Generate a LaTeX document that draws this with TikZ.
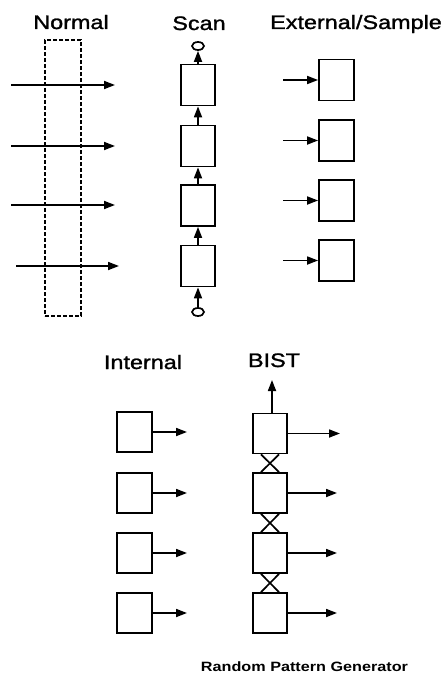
\documentclass[tikz,border=0pt]{standalone}
\usepackage{fontspec}
\setmainfont{Liberation Sans}
\newfontfamily\hdfont[FakeBold=1.2]{Liberation Sans}
\usetikzlibrary{arrows.meta,shapes.geometric}
\newcommand{\wide}[1]{\scalebox{1.2}[1]{#1}}
\begin{document}
\begin{tikzpicture}[x=1pt,y=-1pt,
  heading/.style={anchor=base,inner sep=0pt,font=\hdfont\fontsize{19.5}{22}\selectfont},
  small/.style={anchor=base,inner sep=0pt,font=\fontsize{13.5}{16}\selectfont\bfseries},
  cell/.style={draw,line width=1.8pt,minimum width=34pt,minimum height=41pt,inner sep=0pt},
  arr/.style={line width=1.7pt,-{Triangle[length=11pt,width=8pt]}},
  plain/.style={line width=1.7pt},
  ring/.style={draw,ellipse,line width=1.7pt,minimum width=12pt,minimum height=8pt,inner sep=0pt}]
\useasboundingbox (0,0) rectangle (445,677);

% headings
\node[heading] (hN) at (71,29) {\wide{Normal}};
\node[heading] (hS) at (199,30) {\wide{Scan}};
\node[heading] (hE) at (356,29) {\wide{External/Sample}};
\node[heading] (hI) at (143,369) {\wide{Internal}};
\node[heading] (hB) at (274,367) {\wide{BIST}};
\node[small] (hR) at (304.5,671) {\wide{Random Pattern Generator}};

% Normal
\node[draw,dash pattern=on 4pt off 2pt,line width=1.4pt,minimum width=36pt,minimum height=276pt,inner sep=0pt] (nrect) at (63,178) {};
\coordinate (na1) at (11,85);  \coordinate (nb1) at (115,85);
\coordinate (na2) at (11,146); \coordinate (nb2) at (115,146);
\coordinate (na3) at (11,205); \coordinate (nb3) at (115,205);
\coordinate (na4) at (16,266); \coordinate (nb4) at (119,266);
\foreach \i in {1,...,4} \draw[arr] (na\i) -- (nb\i);

% Scan
\node[cell] (s1) at (198,85) {};
\node[cell] (s2) at (198,146) {};
\node[cell] (s3) at (198,205.5) {};
\node[cell] (s4) at (198,266) {};
\node[ring] (st) at (198,46) {};
\node[ring] (sb) at (198,312) {};
\draw[arr] (s1.north) -- (st.south);
\draw[arr] (s2.north) -- (s1.south);
\draw[arr] (s3.north) -- (s2.south);
\draw[arr] (s4.north) -- (s3.south);
\draw[arr] (sb.north) -- (s4.south);

% External/Sample
\foreach \i/\y in {1/80,2/140.5,3/200.5,4/260.5}{
  \node[cell,minimum width=35pt] (e\i) at (336.5,\y) {};
  \coordinate (ea\i) at (283,\y);
  \draw[arr] (ea\i) -- (e\i.west);
}

% Internal
\foreach \i/\y in {1/432,2/493,3/553,4/613}{
  \node[cell,minimum width=35pt,minimum height=40pt] (in\i) at (134.5,\y) {};
  \coordinate (ie\i) at (187,\y);
  \draw[arr] (in\i.east) -- (ie\i);
}

% BIST
\foreach \i/\y/\xe in {1/433.5/340,2/493/337,3/553/337,4/613/337}{
  \node[cell,minimum height=40pt] (b\i) at (270,\y) {};
  \coordinate (be\i) at (\xe,\y);
  \draw[arr] (b\i.east) -- (be\i);
}
\coordinate (bup) at (272,380);
\draw[arr] (b1.north -| bup) -- (bup);
\foreach \u/\l in {b1/b2,b2/b3,b3/b4}{
  \draw[plain] ([xshift=-9pt]\u.south) -- ([xshift=9pt]\l.north);
  \draw[plain] ([xshift=9pt]\u.south) -- ([xshift=-9pt]\l.north);
}
\end{tikzpicture}
\end{document}
